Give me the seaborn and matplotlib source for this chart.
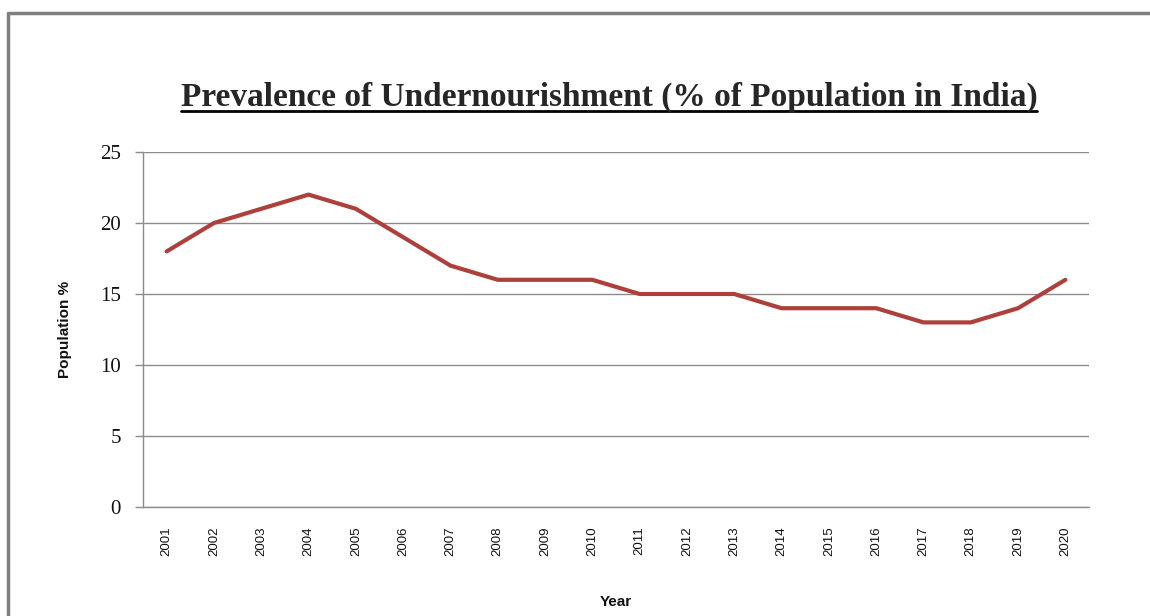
import matplotlib
matplotlib.use("Agg")
import matplotlib.pyplot as plt
from matplotlib.lines import Line2D
import seaborn as sns
import pandas as pd

years = [str(y) for y in range(2001, 2021)]
values = [18, 20, 21, 22, 21, 19, 17, 16, 16, 16, 15, 15, 15, 14, 14, 14, 13, 13, 14, 16]
y_ticks = [0, 5, 10, 15, 20, 25]

df = pd.DataFrame({"pos": range(len(years)), "year": years, "value": values})

sns.set_style("white")
plt.rcParams["font.family"] = ["Liberation Sans", "DejaVu Sans"]

fig = plt.figure(figsize=(11.5, 6.16), dpi=100)
ax = fig.add_axes([143 / 1150, 1 - 507 / 616, (1089 - 143) / 1150, (507 - 152) / 616])

sns.lineplot(data=df, x="pos", y="value", ax=ax, color="#AE403C", linewidth=3)

grid_c = "#8c8c8c"
ax.set_xlim(-0.5, len(years) - 0.5)
ax.set_ylim(0, 25)
ax.set_yticks(y_ticks)
ax.set_yticklabels([str(t) for t in y_ticks], family="Liberation Serif", fontsize=15, color="#111111")
ax.yaxis.grid(True, color=grid_c, linewidth=1)
ax.set_axisbelow(True)

ax.set_xticks(range(len(years)))
ax.set_xticklabels(years, rotation=90, fontsize=9.5, color="#111111")
ax.set_xticks([i - 0.5 for i in range(len(years) + 1)], minor=True)
ax.tick_params(axis="x", which="major", length=0, pad=14)
ax.tick_params(axis="x", which="minor", length=6, color=grid_c, width=1, direction="out")
ax.tick_params(axis="y", length=6, color=grid_c, width=1, direction="out", pad=10, left=True)

for s in ["top", "right"]:
    ax.spines[s].set_visible(False)
for s in ["left", "bottom"]:
    ax.spines[s].set_color(grid_c)
    ax.spines[s].set_linewidth(1)

ax.set_xlabel("Year", fontsize=11, fontweight="bold", labelpad=28, color="#111111")
ax.set_ylabel("Population %", fontsize=11, fontweight="bold", labelpad=20, color="#111111")

# chart title, underlined like the original
title = fig.text(609 / 1150, 1 - 97 / 616, "Prevalence of Undernourishment (% of Population in India)",
                 ha="center", va="center", family="Liberation Serif", fontweight="bold", fontsize=24)
fig.canvas.draw()
bb = title.get_window_extent().transformed(fig.transFigure.inverted())
fig.add_artist(Line2D([bb.x0, bb.x1], [bb.y0 + 0.002, bb.y0 + 0.002], transform=fig.transFigure,
                      color="black", linewidth=2))

# outer chart frame
fig.add_artist(Line2D([8 / 1150, 8 / 1150, 1.0], [0.0, 1 - 13 / 616, 1 - 13 / 616],
                      transform=fig.transFigure, color="#7f7f7f", linewidth=2.5))

fig.savefig("out.png", dpi=100)
